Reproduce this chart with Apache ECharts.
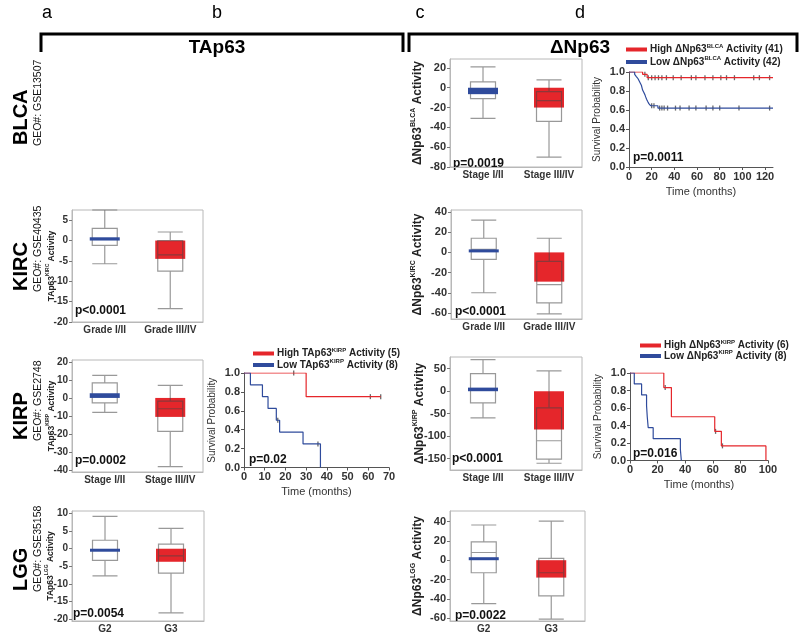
<!DOCTYPE html>
<html>
<head>
<meta charset="utf-8">
<script src="https://cdn.jsdelivr.net/npm/echarts@6/dist/echarts.min.js"></script>
<style>
html, body { margin: 0; padding: 0; background: #fff; }
#chart { width: 800px; height: 634px; }
</style>
</head>
<body>
<div id="chart"></div>
<script>
// ---------- box plot data: [min, Q1, median, Q3, max], means = [low group, high group]
const blcaCats = ["Stage I/II", "Stage III/IV"]
const blcaDnBox = [[-31, -11, -4, 6, 21], [-70, -34, -13, -4, 8]]
const blcaDnMean = [-6.5, -20]
const blcaDnTicks = [-80, -60, -40, -20, 0, 20]

const kircCats = ["Grade I/II", "Grade III/IV"]
const kircTaBox = [[-5.7, -1.2, 0.5, 3, 7.5], [-16.7, -7.5, -3.5, 0, 2.1]]
const kircTaMean = [0.8, -4.5]
const kircTaTicks = [-20, -15, -10, -5, 0, 5]
const kircDnBox = [[-40, -7, 3, 14, 32], [-61, -50, -32, -9, 14]]
const kircDnMean = [0.8, -29]
const kircDnTicks = [-60, -40, -20, 0, 20, 40]

const kirpCats = ["Stage I/II", "Stage III/IV"]
const kirpTaBox = [[-8, -2.7, 1.5, 8.3, 12.5], [-38, -18.5, -6, -1.8, 7]]
const kirpTaMean = [2.6, -10.5]
const kirpTaTicks = [-40, -30, -20, -10, 0, 10, 20]
const kirpDnBox = [[-59, -26, 5, 39, 70], [-160, -151, -110, -37, 45]]
const kirpDnMean = [8, -85]
const kirpDnTicks = [-150, -100, -50, 0, 50]

const lggCats = ["G2", "G3"]
const lggTaBox = [[-7.7, -3.3, -0.3, 2.4, 9.2], [-18.2, -6.9, -2, 1.3, 5.8]]
const lggTaMean = [-0.3, -3.7]
const lggTaTicks = [-20, -15, -10, -5, 0, 5, 10]
const lggDnBox = [[-45, -13, 8, 19, 36.5], [-61, -37, -13, 2, 40.5]]
const lggDnMean = [1.5, -18]
const lggDnTicks = [-60, -40, -20, 0, 20, 40]

// ---------- survival curves: [months, probability]
const blcaHigh = [[0, 1], [12, 0.976], [16, 0.94], [127, 0.94]]
const blcaLow = [[0, 1], [5, 0.976], [6.5, 0.952], [8, 0.929], [9, 0.905], [10, 0.881], [11, 0.857],
  [11.5, 0.833], [12, 0.81], [13, 0.786], [14, 0.762], [14.7, 0.738], [15.5, 0.714], [16.5, 0.69],
  [17.5, 0.667], [19, 0.645], [25.5, 0.62], [127, 0.62]]
const blcaHighCens = [[14, 0.976], [17, 0.94], [20, 0.94], [23, 0.94], [26, 0.94], [29, 0.94], [33, 0.94],
  [39, 0.94], [46, 0.94], [55, 0.94], [59, 0.94], [67, 0.94], [74, 0.94], [81, 0.94], [86, 0.94],
  [93, 0.94], [110, 0.94], [115, 0.94], [124, 0.94]]
const blcaLowCens = [[20, 0.645], [22, 0.645], [27, 0.62], [29, 0.62], [31, 0.62], [34, 0.62], [41, 0.62],
  [45, 0.62], [53, 0.62], [59, 0.62], [68, 0.62], [74, 0.62], [80, 0.62], [97, 0.62], [124, 0.62]]
const blcaTimeTicks = [0, 20, 40, 60, 80, 100, 120]

const kirpTaHigh = [[0, 1], [30, 0.75], [66, 0.75]]
const kirpTaLow = [[0, 1], [3.1, 0.875], [8.9, 0.75], [11.6, 0.625], [15.6, 0.5], [17.2, 0.375], [28.5, 0.25], [36.9, 0]]
const kirpTaHighCens = [[24, 1], [61, 0.75], [66, 0.75]]
const kirpTaLowCens = [[16.3, 0.5], [35.7, 0.25]]
const kirpTaTimeTicks = [0, 10, 20, 30, 40, 50, 60, 70]

const kirpDnHigh = [[0, 1], [24.5, 0.833], [30, 0.5], [61.4, 0.333], [66.2, 0.167], [98.5, 0]]
const kirpDnLow = [[0, 1], [3.1, 0.875], [8.4, 0.75], [12, 0.625], [12.5, 0.5], [13.2, 0.375], [16.8, 0.25], [36.5, 0.125], [37.2, 0]]
const kirpDnHighCens = [[25.5, 0.833], [62, 0.333], [67, 0.167]]
const kirpDnLowCens = []
const kirpDnTimeTicks = [0, 20, 40, 60, 80, 100]

const survTicks = [0, 0.2, 0.4, 0.6, 0.8, 1]

const FONT = "'Liberation Sans', Arial, sans-serif"
const RED = "#e5262b"
const BLUE = "#2f4b9c"
const FRAME = "#b8b8b8"

const chart = echarts.init(document.getElementById("chart"))
const option = {
  animation: false,
  backgroundColor: "#fff",
  textStyle: { fontFamily: FONT },
  grid: [], xAxis: [], yAxis: [], series: [], legend: [], graphic: [],
}

const supRich = (fs) => ({
  m: { fontSize: fs, fontWeight: "bold", color: "#222", lineHeight: fs + 3 },
  s: { fontSize: Math.round(fs * 0.55), fontWeight: "bold", color: "#222", lineHeight: Math.round(fs * 0.6), verticalAlign: "top" },
})

const boxPanel = (p) => {
  const i = option.grid.length
  option.grid.push({ left: p.left, top: p.top, width: p.width, height: p.height, show: true, borderColor: FRAME, borderWidth: 1 })
  option.xAxis.push({
    gridIndex: i, type: "category", data: p.cats,
    axisTick: { show: false },
    axisLine: { onZero: false, lineStyle: { color: FRAME } },
    axisLabel: { interval: 0, fontSize: 10, fontWeight: "bold", color: "#333", margin: 3 },
  })
  option.yAxis.push({
    gridIndex: i, type: "value", min: p.min, max: p.max,
    splitLine: { show: false },
    axisLine: { show: true, lineStyle: { color: FRAME } },
    axisTick: { show: true, length: 3, customValues: p.ticks, lineStyle: { color: "#777" } },
    axisLabel: { customValues: p.ticks, fontSize: p.fs, fontWeight: "bold", color: "#333", margin: 4 },
    name: "{m|" + p.gene + "}{s|" + p.sup + "}{m| Activity}",
    nameLocation: "middle", nameGap: p.nameGap, nameMoveOverlap: false,
    nameTextStyle: { rich: supRich(p.nameFs) },
  })
  option.series.push({
    type: "bar", xAxisIndex: i, yAxisIndex: i, z: 1,
    barWidth: 30, barGap: "-100%",
    itemStyle: { color: RED },
    data: ["-", p.mean[1]],
  })
  option.series.push({
    type: "boxplot", xAxisIndex: i, yAxisIndex: i, z: 2,
    boxWidth: [25, 25],
    itemStyle: { color: "rgba(255,255,255,0)", borderColor: "rgba(70,70,70,0.55)", borderWidth: 1.2 },
    data: p.box,
  })
  option.series.push({
    type: "bar", xAxisIndex: i, yAxisIndex: i, z: 3,
    barWidth: 30, barGap: "-100%", barMinHeight: 3,
    itemStyle: { color: BLUE },
    data: [p.mean[0], "-"],
  })
  option.graphic.push({
    type: "text", left: p.pX, top: p.pY,
    style: { text: p.pText, font: "bold 12px " + FONT, fill: "#111" },
  })
}

const kmPanel = (p) => {
  const i = option.grid.length
  option.grid.push({ left: p.left, top: p.top, width: p.width, height: p.height })
  option.xAxis.push({
    gridIndex: i, type: "value", min: 0, max: p.xmax,
    splitLine: { show: false },
    axisLine: { lineStyle: { color: "#555" } },
    axisTick: { length: 3, customValues: p.xticks, lineStyle: { color: "#555" } },
    axisLabel: { customValues: p.xticks, fontSize: 11, fontWeight: "bold", color: "#333", margin: 4 },
    name: "Time (months)", nameLocation: "middle", nameGap: 19,
    nameTextStyle: { fontSize: 11, color: "#333" },
  })
  option.yAxis.push({
    gridIndex: i, type: "value", min: 0, max: 1,
    splitLine: { show: false },
    axisLine: { show: true, lineStyle: { color: "#555" } },
    axisTick: { show: true, length: 3, customValues: survTicks, lineStyle: { color: "#555" } },
    axisLabel: { customValues: survTicks, formatter: (v) => v.toFixed(1), fontSize: 11, fontWeight: "bold", color: "#333", margin: 4 },
    name: "Survival Probability", nameLocation: "middle", nameGap: 27,
    nameTextStyle: { fontSize: 10, color: "#333" },
  })
  const names = [p.key + " high", p.key + " low"]
  ;[[p.high, p.highCens, RED], [p.low, p.lowCens, BLUE]].forEach(([curve, cens, col], k) => {
    option.series.push({
      name: names[k], type: "line", step: "end", xAxisIndex: i, yAxisIndex: i,
      symbol: "none", color: col, lineStyle: { color: col, width: 1.2 },
      data: curve,
    })
    option.series.push({
      type: "scatter", xAxisIndex: i, yAxisIndex: i,
      symbol: "rect", symbolSize: [1.3, 5],
      itemStyle: { color: "#444" },
      data: cens,
    })
  })
  option.legend.push({
    data: names, orient: "vertical", left: p.legLeft, top: p.legTop,
    icon: "rect", itemWidth: 21, itemHeight: 4, itemGap: p.legGap,
    padding: 0, selectedMode: false,
    textStyle: { rich: supRich(10), padding: [0, 0, 0, -2] },
    formatter: (n) => n === names[0] ? p.legHigh : p.legLow,
  })
  option.graphic.push({
    type: "text", left: p.pX, top: p.pY,
    style: { text: p.pText, font: "bold 12px " + FONT, fill: "#111" },
  })
}

// ---------- panels
boxPanel({ left: 450, top: 59, width: 132, height: 108, cats: blcaCats, box: blcaDnBox, mean: blcaDnMean,
  min: -80, max: 29, ticks: blcaDnTicks, fs: 11, gene: "ΔNp63", sup: "BLCA", nameFs: 12, nameGap: 25,
  pText: "p=0.0019", pX: 453, pY: 158 })
boxPanel({ left: 72, top: 210, width: 131, height: 112, cats: kircCats, box: kircTaBox, mean: kircTaMean,
  min: -20, max: 7.5, ticks: kircTaTicks, fs: 10, gene: "TAp63", sup: "KIRC", nameFs: 8.5, nameGap: 15,
  pText: "p<0.0001", pX: 75, pY: 305 })
boxPanel({ left: 451, top: 210, width: 131, height: 109, cats: kircCats, box: kircDnBox, mean: kircDnMean,
  min: -66, max: 42, ticks: kircDnTicks, fs: 11, gene: "ΔNp63", sup: "KIRC", nameFs: 12, nameGap: 26,
  pText: "p<0.0001", pX: 455, pY: 306 })
boxPanel({ left: 72, top: 360, width: 131, height: 112, cats: kirpCats, box: kirpTaBox, mean: kirpTaMean,
  min: -41, max: 21, ticks: kirpTaTicks, fs: 10, gene: "TAp63", sup: "KIRP", nameFs: 8.5, nameGap: 15,
  pText: "p=0.0002", pX: 75, pY: 455 })
boxPanel({ left: 450, top: 357, width: 132, height: 113, cats: kirpCats, box: kirpDnBox, mean: kirpDnMean,
  min: -175, max: 76, ticks: kirpDnTicks, fs: 11, gene: "ΔNp63", sup: "KIRP", nameFs: 12, nameGap: 23,
  pText: "p<0.0001", pX: 452, pY: 453 })
boxPanel({ left: 72, top: 511, width: 132, height: 111, cats: lggCats, box: lggTaBox, mean: lggTaMean,
  min: -20.5, max: 10.7, ticks: lggTaTicks, fs: 10, gene: "TAp63", sup: "LGG", nameFs: 8.5, nameGap: 16,
  pText: "p=0.0054", pX: 73, pY: 608 })
boxPanel({ left: 450, top: 511, width: 135, height: 112, cats: lggCats, box: lggDnBox, mean: lggDnMean,
  min: -63, max: 51, ticks: lggDnTicks, fs: 11, gene: "ΔNp63", sup: "LGG", nameFs: 12, nameGap: 25,
  pText: "p=0.0022", pX: 455, pY: 610 })

kmPanel({ key: "BLCA", left: 629, top: 72, width: 144, height: 95, xmax: 127, xticks: blcaTimeTicks,
  high: blcaHigh, low: blcaLow, highCens: blcaHighCens, lowCens: blcaLowCens,
  legLeft: 626, legTop: 43, legGap: 1,
  legHigh: "{m|High ΔNp63}{s|BLCA}{m| Activity (41)}", legLow: "{m|Low ΔNp63}{s|BLCA}{m| Activity (42)}",
  pText: "p=0.0011", pX: 633, pY: 152 })
kmPanel({ key: "KIRP TA", left: 244, top: 373, width: 145, height: 94.5, xmax: 70, xticks: kirpTaTimeTicks,
  high: kirpTaHigh, low: kirpTaLow, highCens: kirpTaHighCens, lowCens: kirpTaLowCens,
  legLeft: 253, legTop: 347, legGap: 0,
  legHigh: "{m|High TAp63}{s|KIRP}{m| Activity (5)}", legLow: "{m|Low TAp63}{s|KIRP}{m| Activity (8)}",
  pText: "p=0.02", pX: 249, pY: 454 })
kmPanel({ key: "KIRP DN", left: 630, top: 373, width: 138, height: 87.5, xmax: 100, xticks: kirpDnTimeTicks,
  high: kirpDnHigh, low: kirpDnLow, highCens: kirpDnHighCens, lowCens: kirpDnLowCens,
  legLeft: 640, legTop: 339, legGap: -1,
  legHigh: "{m|High ΔNp63}{s|KIRP}{m| Activity (6)}", legLow: "{m|Low ΔNp63}{s|KIRP}{m| Activity (8)}",
  pText: "p=0.016", pX: 633, pY: 448 })

// ---------- header brackets and row labels
const hdr = (x, y, text, font) => ({ type: "text", x: x, y: y,
  style: { text: text, font: font, fill: "#000", textAlign: "center", textVerticalAlign: "middle" } })
option.graphic.push(
  { type: "polyline", shape: { points: [[41, 52], [41, 34], [403, 34], [403, 52]] }, style: { stroke: "#000", lineWidth: 3, fill: null } },
  { type: "polyline", shape: { points: [[409, 52], [409, 34], [797, 34], [797, 52]] }, style: { stroke: "#000", lineWidth: 3, fill: null } },
  hdr(47, 13, "a", "18px " + FONT), hdr(217, 13, "b", "18px " + FONT),
  hdr(420, 13, "c", "18px " + FONT), hdr(580, 13, "d", "18px " + FONT),
  hdr(217, 48, "TAp63", "bold 19px " + FONT), hdr(580, 48, "ΔNp63", "bold 19px " + FONT),
)
const rowLabel = (bottom, name, geo) => {
  option.graphic.push(
    { type: "text", x: 21, y: bottom, rotation: Math.PI / 2,
      style: { text: name, font: "bold 20px " + FONT, fill: "#000", textAlign: "left", textVerticalAlign: "middle" } },
    { type: "text", x: 38, y: bottom + 1, rotation: Math.PI / 2,
      style: { text: geo, font: "10.5px " + FONT, fill: "#111", textAlign: "left", textVerticalAlign: "middle" } },
  )
}
rowLabel(145, "BLCA", "GEO#: GSE13507")
rowLabel(291, "KIRC", "GEO#: GSE40435")
rowLabel(440, "KIRP", "GEO#: GSE2748")
rowLabel(591, "LGG", "GEO#: GSE35158")

chart.setOption(option)
</script>
</body>
</html>
